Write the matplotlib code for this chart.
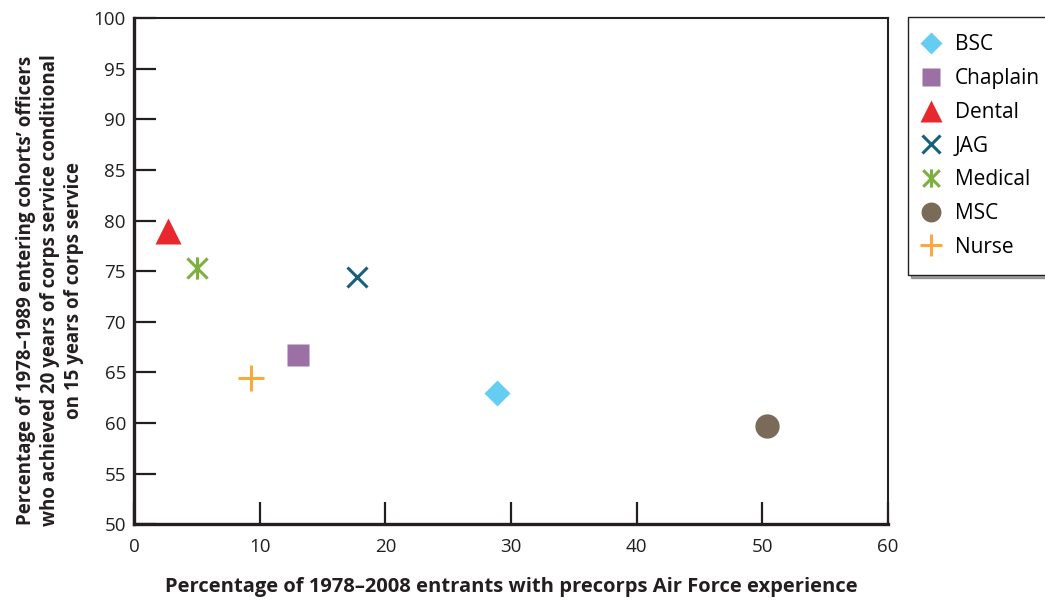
import matplotlib.pyplot as plt
from matplotlib.path import Path

plt.rcParams['font.family'] = ['Open Sans', 'DejaVu Sans']

names = ['BSC', 'Chaplain', 'Dental', 'JAG', 'Medical', 'MSC', 'Nurse']
x_vals = [28.9, 13.0, 2.7, 17.7, 5.0, 50.4, 9.3]
y_vals = [63.0, 66.7, 79.0, 74.4, 75.3, 59.7, 64.5]
colors = ['#66CDF2', '#9B70A5', '#E8282C', '#16607E', '#7DB03C', '#7A6A58', '#F8AA3C']

# asterisk = x plus a vertical bar
star = Path([(-1, -1), (1, 1), (-1, 1), (1, -1), (0, -1.1), (0, 1.1)],
            [Path.MOVETO, Path.LINETO, Path.MOVETO, Path.LINETO, Path.MOVETO, Path.LINETO])
markers = ['D', 's', '^', 'x', star, 'o', '+']
sizes = [13.5, 16.5, 19, 15, 16, 17.5, 19]
filled = [True, True, True, False, False, True, False]

fig = plt.figure(figsize=(10.45, 6.01), dpi=100)
ax = fig.add_axes([0.1285, 0.1276, 0.721, 0.842])

for i in range(len(names)):
    if filled[i]:
        ax.plot(x_vals[i], y_vals[i], linestyle='none', marker=markers[i], ms=sizes[i],
                color=colors[i], mec='none', label=names[i])
    else:
        ax.plot(x_vals[i], y_vals[i], linestyle='none', marker=markers[i], ms=sizes[i],
                color=colors[i], mec=colors[i], mew=2.2, mfc='none', label=names[i])

ax.set_xlim(0, 60)
ax.set_ylim(50, 100)
ax.set_xticks(range(0, 61, 10))
ax.set_yticks(range(50, 101, 5))
ax.tick_params(direction='in', length=16, width=1.6, labelsize=13.5, colors='#231f20')
ax.tick_params(axis='x', pad=10)
ax.tick_params(axis='y', pad=6)
ax.spines['left'].set_linewidth(2.4)
ax.spines['bottom'].set_linewidth(2.4)
ax.spines['top'].set_linewidth(1.5)
ax.spines['right'].set_linewidth(1.5)
for s in ax.spines.values():
    s.set_color('#231f20')

ax.set_xlabel('Percentage of 1978\u20132008 entrants with precorps Air Force experience',
              fontsize=14.5, fontweight='bold', color='#231f20', labelpad=15)
ax.set_ylabel("Percentage of 1978\u20131989 entering cohorts\u2019 officers\n"
              "who achieved 20 years of corps service conditional\n"
              "on 15 years of corps service",
              fontsize=13.5, fontweight='bold', color='#231f20', labelpad=7, linespacing=1.27)
ax.yaxis.label.set_y(0.462)

leg = ax.legend(loc='upper left', bbox_to_anchor=(908 / 1045, 1 - 17 / 601),
                bbox_transform=fig.transFigure, borderaxespad=0, fontsize=15,
                markerscale=0.82, frameon=True, fancybox=False, shadow=True,
                labelspacing=0.61, handletextpad=0.89, borderpad=0.84, handlelength=0.53)
leg.get_frame().set_edgecolor('#231f20')
leg.get_frame().set_linewidth(1.0)

fig.savefig('out.png', dpi=100)
